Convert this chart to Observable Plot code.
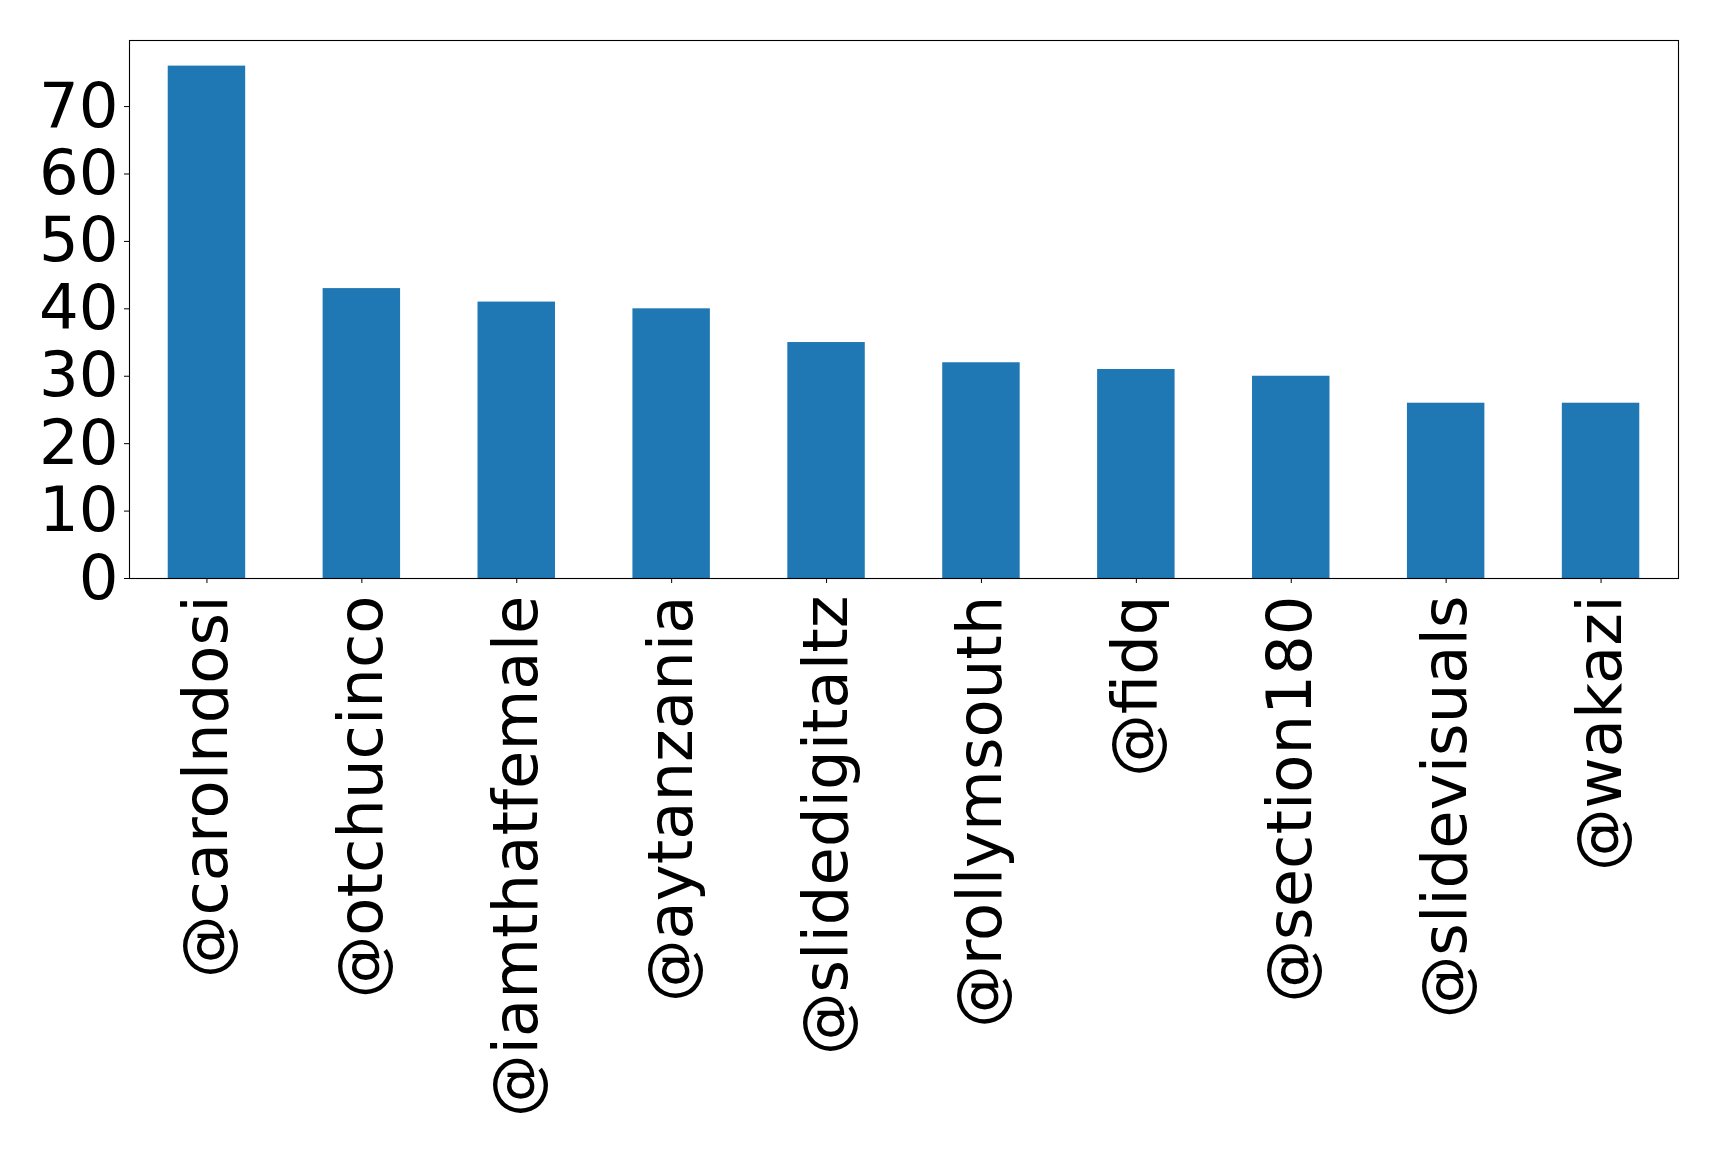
<!DOCTYPE html>
<html>
<head>
<meta charset="utf-8">
<script src="https://cdn.jsdelivr.net/npm/d3@7"></script>
<script src="https://cdn.jsdelivr.net/npm/@observablehq/plot@0.6"></script>
<style>
  html, body { margin: 0; padding: 0; background: #fff; }
  #chart svg { display: block; font-family: "DejaVu Sans", sans-serif; }
</style>
</head>
<body>
<div id="chart"></div>
<script>
// Top accounts by mention count
const handles = ["@carolndosi", "@otchucinco", "@iamthatfemale", "@aytanzania", "@slidedigitaltz",
                 "@rollymsouth", "@fidq", "@section180", "@slidevisuals", "@wakazi"];
const counts = [76, 43, 41, 40, 35, 32, 31, 30, 26, 26];
const yTicks = [0, 10, 20, 30, 40, 50, 60, 70];

const rows = handles.map((h, i) => ({handle: h, count: counts[i]}));

const chart = Plot.plot({
  width: 1719,
  height: 1149,
  marginLeft: 129,
  marginRight: 41,
  marginTop: 40,
  marginBottom: 571,
  style: {fontFamily: "DejaVu Sans, sans-serif", background: "#fff", color: "#000"},
  x: {domain: handles, paddingInner: 0.5, paddingOuter: 0.25, round: false, label: null},
  y: {domain: [0, 79.8], label: null},
  marks: [
    Plot.barY(rows, {x: "handle", y: "count", fill: "#1f77b4"}),
    Plot.axisY({ticks: yTicks, tickSize: 5, tickPadding: 6, fontSize: 62.5, label: null, stroke: "#000"}),
    Plot.axisX({tickSize: 5, tickPadding: 12, tickRotate: -90, fontSize: 62.5, label: null, stroke: "#000"}),
    Plot.frame({stroke: "#000", strokeWidth: 1.1})
  ]
});
document.getElementById("chart").append(chart);
</script>
</body>
</html>
